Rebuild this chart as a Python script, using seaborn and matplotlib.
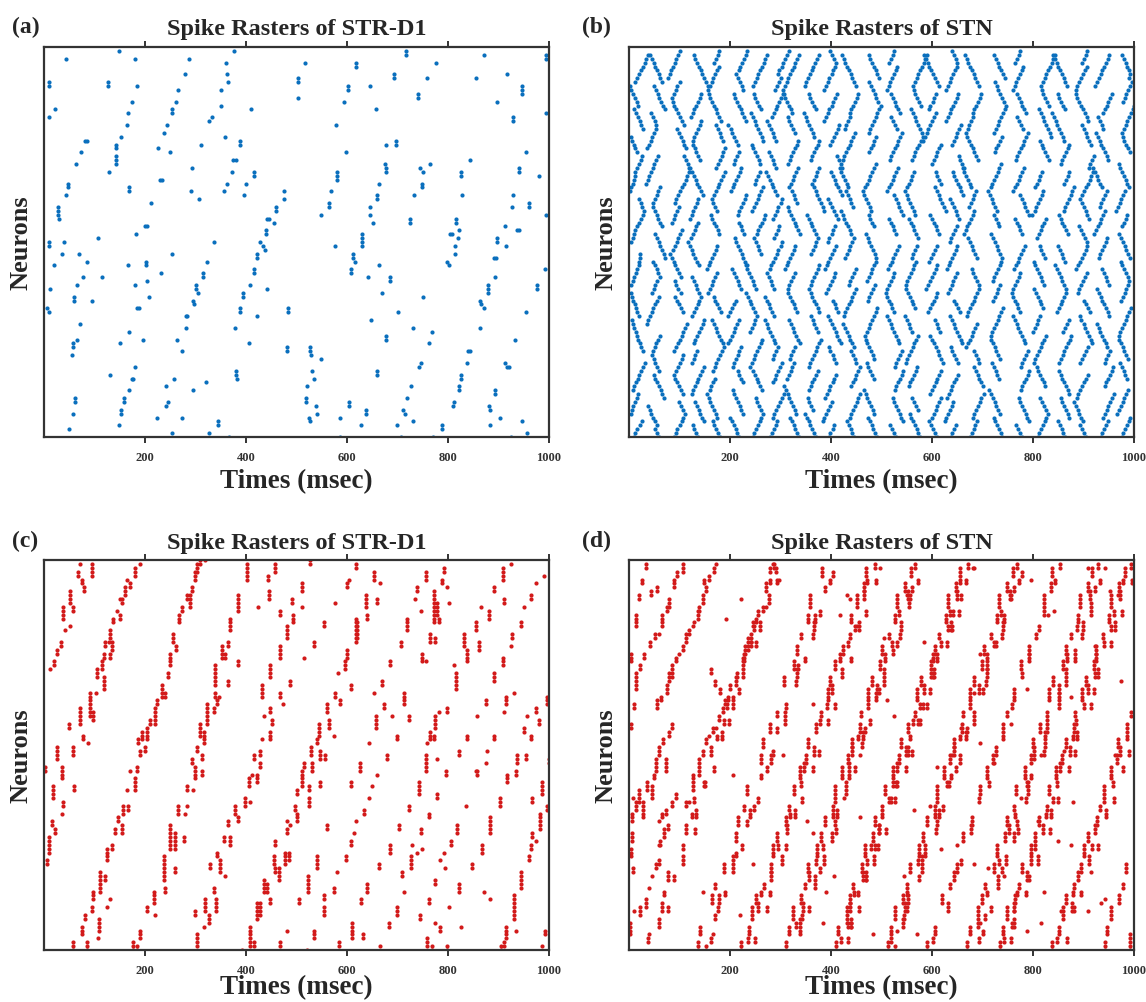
import matplotlib
matplotlib.use("Agg")
import matplotlib.pyplot as plt
import seaborn as sns
import pandas as pd

# ---------------- data (time in ms, neuron index 0..100) ----------------
# panel (a): STR-D1 spikes, (time, neuron)
spikes_a = [
(148,99),(44,97),(181,97),(287,97),(376,99),(360,96),
(9,91),(9,90),(126,91),(126,90),(185,90),(279,93),(362,93),(365,91),(266,89),(351,89),
(503,92),(503,91),(503,87),(174,86),(261,86),(21,84),(9,82),(166,83),(254,84),(254,83),(350,85),(409,84),
(333,82),(326,81),(164,80),(244,80),(238,78),(152,77),(358,77),(82,76),(86,76),
(143,75),(143,74),(143,72),(143,71),(143,70),(73,73),(226,74),(249,73),(310,75),(389,76),(389,75),
(64,70),(375,71),(381,71),(128,68),(294,69),(372,68),(416,68),(416,67),
(48,65),(48,64),(169,64),(169,63),(230,66),(234,66),(363,65),(400,65),
(43,62),(291,63),(357,63),(475,63),(397,62),(306,61),(475,61),(212,60),
(28,59),(28,58),(28,57),(30,56),(459,59),(459,58),(441,56),(446,56),(455,55),
(200,54),(203,54),(439,53),(439,52),(182,52),(107,51),(9,50),(9,49),(40,50),(336,50),(427,50),(434,49),
(516,96),(617,96),(617,95),(601,90),(601,89),(594,86),(646,90),(657,84),(716,99),(716,98),(694,93),(694,92),
(741,88),(741,87),(758,92),(776,96),(872,98),(855,92),(917,93),(946,90),(946,89),(947,88),(898,86),(994,98),
(994,97),(995,83),(928,82),(928,81),(578,80),(677,75),(697,76),(697,75),(599,73),(676,70),(677,69),(678,68),
(581,68),(581,67),(581,66),(664,65),(660,62),(660,61),(569,63),(565,60),(565,59),(549,57),(645,59),(646,57),
(651,55),(725,56),(725,55),(744,69),(751,68),(765,70),(748,65),(748,64),(732,62),(826,68),(826,67),(843,71),
(827,62),(816,56),(816,55),(821,53),(803,52),(807,52),(820,51),(814,49),(954,73),(941,69),(941,68),(981,67),
(929,62),(927,59),(960,60),(960,59),(912,54),(937,53),(941,53),(898,51),(898,50),(915,49),(630,52),(630,51),
(630,50),(630,49),(576,49),(995,57),
(438,48),(35,47),(69,47),(254,47),(20,44),(85,45),(167,44),(201,45),(201,44),(232,42),(323,45),(315,42),
(315,41),(11,38),(65,39),(78,41),(115,41),(181,39),(203,40),(301,39),(301,38),(304,37),(59,36),(59,35),
(96,35),(208,36),(296,35),(297,34),(6,33),(9,32),(185,33),(189,33),(281,31),(283,31),(281,28),(72,29),
(66,25),(57,24),(57,23),(55,21),(169,27),(197,25),(150,24),(263,25),(273,22),(180,18),(130,16),(174,15),
(177,15),(168,12),(158,10),(158,9),(153,7),(153,6),(148,3),(62,10),(62,9),(57,6),(49,2),(242,13),(242,8),
(245,9),(258,15),(224,5),(273,5),(253,1),(320,14),(296,12),(327,1),(344,4),(345,3),(366,0),(388,32),(389,33),
(378,28),(405,24),(421,31),(395,37),(395,36),(408,39),(416,43),(416,42),(422,47),(422,46),(442,38),(381,17),
(381,16),(382,15),(483,33),(483,32),(481,23),(481,22),
(814,47),(612,47),(612,46),(616,45),(608,43),(608,42),(642,41),(664,44),(686,41),(686,40),(669,37),(799,45),
(801,44),(891,46),(895,46),(893,41),(879,39),(879,38),(879,37),(864,35),(865,34),(871,33),(976,39),(977,38),
(993,43),(955,32),(751,36),(700,32),(648,30),(731,28),(769,27),(763,24),(678,26),(678,25),(526,23),(526,22),
(529,21),(549,20),(531,17),(535,15),(521,13),(518,10),(519,9),(539,8),(541,6),(524,5),(527,4),(587,5),
(586,0),(603,9),(603,8),(628,3),(638,7),(638,6),(660,17),(660,16),(699,3),(706,0),(710,7),(714,6),(730,4),
(719,10),(727,13),(742,18),(746,19),(771,0),(789,3),(789,2),(809,8),(812,9),(822,13),(822,12),(826,16),
(826,15),(838,19),(840,22),(844,22),(863,28),(882,8),(884,7),(884,3),(903,5),(894,12),(894,11),(932,25),
(913,19),(917,18),(921,18),(925,0),(947,4),(957,1),
]

# panel (b): STN spike chains, each (first neuron, [times of consecutive neurons])
b_col01 = [(0,[9,12,16,21,25]),(6,[3,6,8,11,15,18]),(12,[8,10,13,17,20,24,27,31]),(22,[28,24,21,18,15]),(27,[14,10,7,5]),(31,[19,16,13,11,8,5,3]),(39,[3,7,10,13,16,20]),(45,[19,22,22]),(50,[4,7,10,12,15,19,23,27,30]),(59,[26,23,20]),(63,[2,4,7,10,12]),(68,[12,15,19,23,26]),(73,[16,12,9,6,3]),(79,[28,24,21,17,14,10]),(85,[18,15,11,8,4,1]),(91,[12,16,19,23,27,31,34,38])]
b_col02 = [(0,[59,55,52]),(3,[55,51,48,44,41,38]),(10,[70,66,63,60,56,52,49]),(17,[60,56,52,49]),(21,[45,48,51,54,58,61]),(29,[35,38,41,45,48,51,55,59]),(37,[46,49,52,56]),(41,[61,58,55,51,48]),(46,[72,69,65,62,59,55,52]),(54,[65,62,58,55,52,48]),(60,[48,51,55,58,61]),(65,[34,37,40,44,47,50,54,57]),(74,[36,39,43,46,50,53]),(80,[54,51,47,44]),(84,[71,67,64,60,57,53,50]),(91,[66,62,59,55,52,49,45,42])]
b_col03 = [(0,[89,93,96,100,104,107,111]),(7,[106,103,99]),(11,[106,102,99,95,92]),(16,[90,93,97,100,104,107]),(22,[90,93,97,100,104,107,111,114]),(32,[106,102,99,95,92]),(37,[102,98,94,91]),(41,[103,99,96,92,89,86,82]),(48,[88,91,95,98,101,105]),(55,[85,89,92,96,99]),(60,[91,94,98,101,105,108,112,115,118]),(69,[119,116,112,109]),(74,[112,109,106,102,99,96]),(80,[108,104,101,97,94,90,87]),(87,[86,89,93,96,100]),(92,[78,81,84,88,91,94,98,101])]
b_col04 = [(0,[136,133,129,126]),(4,[148,145,141,138,134,131]),(11,[124,127,130,134,137,141,144,148]),(19,[124,128,131,135]),(24,[128,131,135,139,142,146,149]),(31,[125,129,132,136,139]),(36,[142,139,135,132,128,125]),(44,[138,134,131,127,124,121,117]),(51,[123,126,130,133,137]),(56,[120,124,127,131,134,137]),(62,[146,142,139,135,132,128,124,121]),(71,[140,137,133,130,126]),(76,[126,129,133,136,140,143]),(82,[122,126,129,133,136,140,143]),(90,[156,152,149,145,142,138,135,131,128])]
b_col05 = [(0,[180,176,173,169,166]),(5,[175,172,168,165,161,158,154]),(12,[160,163,167,170]),(17,[166,170,173,177,180,184]),(23,[189,186,182,179,175,172,168,165]),(32,[182,178,175,171,168]),(37,[157,160,164,167,171,174]),(43,[155,158,161,165,168,172,175]),(52,[179,176,172,169,165,162]),(58,[174,171,167,164]),(62,[169,172,176,179,183,186,190]),(69,[173,177,180,184,187,191]),(76,[187,183,180,176,173]),(81,[182,179,175,172,168,165,161,158]),(89,[157,160,164,167,171,174,178]),(96,[169,172,176,179])]
b_col06 = [(0,[218,214,211,207,204,200]),(6,[226,222,219,215,212,208,205]),(14,[225,222,218,215]),(18,[205,208,211,215,218,222]),(24,[196,200,203,207,210,214,217]),(31,[197,200,204,207,211]),(38,[222,218,215,211,208,204]),(44,[233,230,226,223,219,216,212,209]),(52,[228,224,221,217]),(57,[215,218,222,225,229,232]),(63,[201,205,208,212,215,219,222]),(70,[207,210,214,217]),(75,[215,211,208,204,201,197]),(81,[231,228,224,221,217,214,210,207]),(89,[226,223,219,216,212]),(94,[217,220,224,227,231,234])]
b_col07 = [(0,[245,248,252,255,259,262,266]),(7,[261,258,254,251]),(12,[263,260,256,253,249,246]),(18,[240,243,247,250,254,257,261,264]),(27,[240,243,247,250,254]),(32,[249,246,242,239,235,232]),(38,[252,248,245,241,238,234,231]),(47,[262,258,255,251,248]),(52,[253,256,260,263,267,270]),(58,[244,248,251,255,258,262,265]),(65,[249,252,256,259]),(70,[260,257,253,250,246,243]),(76,[266,263,259,256,252,249,245,242]),(84,[261,257,254,250,247]),(90,[246,249,253,256,260,263,267,270,274])]
b_col08 = [(0,[280,284,287,291,294]),(5,[285,288,292,295,299,302,306]),(14,[285,289,292,296,299,303]),(20,[285,288,292,295]),(24,[290,287,283,280,276,273,269]),(31,[287,284,280,277,273,270]),(38,[288,284,281,277,274]),(43,[279,282,286,289,293,296,300,303]),(51,[288,291,295,298]),(56,[286,289,293,296,300,303]),(62,[293,290,286,283,279,276,272]),(69,[292,288,285,281,278]),(76,[292,288,285,281,278,274]),(82,[284,287,291,294,298,301,305]),(89,[290,293,297,300]),(93,[295,298,302,305,309,312,316])]
b_col09 = [(0,[336,333,329,326,322,319]),(6,[331,328,324,321,317,314,310,307]),(15,[313,316,320,323,327]),(20,[318,321,325,328]),(24,[338,334,331,327,324,320,317]),(32,[333,329,326,322,319,315]),(38,[314,317,321,324,328]),(43,[308,312,315,319,322,326,329]),(52,[338,335,331,328,324,321,317,314]),(60,[333,329,326,322]),(64,[317,320,324,327,331,334]),(70,[314,318,321,325,328,332,335]),(78,[328,324,321,317,314]),(83,[323,320,316,313,309,306]),(89,[305,308,312,315,319,322,326,329,333,336])]
b_col10 = [(0,[370,366,363,359,356,352,349]),(7,[364,361,357,354]),(12,[356,360,363,367,370,374]),(18,[356,359,363,366,370,373,377,380]),(27,[374,371,367,364,360]),(32,[377,374,370,367,363,360]),(38,[356,360,363,367,370,374,377]),(47,[361,364,368,371,375]),(52,[370,367,363,360,356,353]),(58,[387,384,380,377,373,370,366,363]),(66,[366,370,373,377]),(71,[360,363,367,370,374,377]),(77,[367,364,360,357,353,350,346]),(84,[370,366,363,359,356]),(90,[348,351,355,358,362,365,369,372,376])]
b_col11 = [(0,[396,399,403,406]),(4,[384,387,391,394,398,401]),(10,[389,392,396,399,403,406,410]),(19,[410,406,403,399,396]),(24,[419,416,412,409,405,402,398,395]),(32,[414,410,407,403]),(37,[391,394,398,401,405,408]),(43,[388,392,395,399,402,406,409]),(50,[394,397,401,404,408]),(56,[413,409,406,402,399,395]),(62,[421,417,414,410,407,403,400]),(69,[422,419,415,412]),(75,[399,402,406,409,413,416]),(81,[387,390,394,397,401,404,408,411]),(89,[387,390,394,397,401,404,408]),(96,[409,406,402,399])]
b_col12 = [(0,[446,442,439,435,432]),(5,[437,440,444,447,451,454,458]),(13,[440,443,447,450,454,457]),(19,[450,447,443,440]),(23,[445,442,438,435,431,428,424]),(31,[425,428,432,435,439,442,446,449]),(39,[435,438,442,445,449]),(46,[428,431,435,438,442,445]),(52,[440,437,433,430,426,423,419]),(59,[444,440,437,433,430]),(64,[434,431,427,424,420,417]),(71,[423,426,430,433,437,440,444,447]),(79,[427,430,434,437]),(83,[437,440,444,447,451,454]),(90,[449,446,442,439,435,432,428,425,421])]
b_col13 = [(0,[491,488,484,481,477,474]),(6,[486,483,479,476,472,469,465]),(15,[485,481,478,474,471]),(20,[486,483,479,476,472,469]),(26,[468,471,475,478,482,485,489,492]),(35,[473,476,480,483,487]),(40,[472,475,479,482,486,489]),(46,[490,487,483,480,476,473,469]),(54,[485,482,478,475]),(58,[480,477,473,470,466,463]),(64,[468,471,475,478,482,485,489]),(73,[476,479,483,486,490]),(78,[475,478,482,485,489,492,496,499]),(86,[494,490,487,483,480,476]),(92,[496,492,489,485,482,478,475])]
b_col14 = [(0,[528,524,521,517]),(4,[543,539,536,532,529,525,522]),(12,[526,529,533,536,540,543]),(18,[526,529,533,536,540]),(24,[535,532,528,525,521,518,514,511]),(32,[525,521,518,514,511]),(37,[508,511,515,518,522,525]),(43,[513,516,520,523,527,530,534]),(52,[529,525,522,518,515]),(57,[542,539,535,532,528,525]),(63,[511,515,518,522,525,529,532]),(71,[516,519,523,526,530,533,537,540]),(79,[530,526,523,519]),(83,[536,533,529,526,522,519]),(89,[510,514,517,521,524,528,531]),(96,[515,518,522,525])]
b_col15 = [(0,[577,573,570,566,563,559,556]),(7,[572,568,565,561]),(13,[554,557,561,564,568,571]),(19,[548,551,555,558,562,565,569,572]),(27,[561,557,554,550,547]),(33,[567,563,560,556,553,549]),(39,[548,551,555,558,562,565,569]),(46,[560,563,567,570]),(51,[572,569,565,562,558,555]),(57,[567,564,560,557,553,550,546]),(64,[551,554,558,561,565]),(71,[560,564,567,571,574,578]),(77,[583,580,576,573,569,566,562,559]),(85,[578,574,571,567,564]),(90,[563,566,570,573,577,580,584,587,591])]
b_col16 = [(0,[609,605,602,598,595]),(5,[600,603,607,610,614,617]),(11,[596,600,603,607,610,614,617]),(19,[621,618,614,611,607,604,600,597]),(27,[616,612,609,605]),(32,[593,596,600,603,607,610]),(38,[589,593,596,600,603,607,610]),(45,[595,598,602,605,609]),(52,[614,610,607,603,600,596]),(58,[627,623,620,616,613,609,606]),(65,[617,614,610,607]),(70,[600,603,607,610,614,617]),(76,[583,586,590,593,597,600,604,607]),(84,[594,597,601,604,608]),(90,[613,609,606,602,599,595,592,588,585])]
b_col17 = [(0,[637,640,644,647]),(4,[625,628,632,635,639,642]),(10,[630,633,637,640,644,647,651]),(19,[651,647,644,640,637]),(24,[660,657,653,650,646,643,639,636]),(32,[655,651,648,644]),(37,[632,635,639,642,646,649]),(43,[629,633,636,640,643,647,650]),(50,[635,638,642,645,649]),(56,[654,650,647,643,640,636]),(62,[662,658,655,651,648,644,641]),(69,[663,660,656,653]),(75,[640,643,647,650,654,657]),(81,[628,631,635,638,642,645,649,652]),(89,[628,631,635,638,642,645,649]),(96,[650,647,643,640])]
b_col18 = [(0,[676,679,683,686,690]),(5,[681,684,688,691,695,698,702]),(13,[701,698,694,691,687,684]),(19,[694,691,687,684]),(23,[668,672,675,679,682,686,689]),(31,[669,672,676,679,683,686,690,693]),(39,[693,689,686,682,679]),(46,[689,686,682,679,675,672]),(52,[663,667,670,674,677,681,684]),(59,[674,677,681,684,688]),(64,[678,675,671,668,664,661]),(71,[691,688,684,681,677,674,670,667]),(79,[671,674,678,681]),(83,[681,684,688,691,695,698]),(90,[693,690,686,683,679,676,672,669,665])]
b_col19 = [(0,[739,736,732,729,725,722]),(6,[734,731,727,724,720,717,713]),(15,[733,729,726,722,719]),(20,[734,731,727,724,720,717]),(26,[716,719,723,726,730,733,737,740]),(35,[721,724,728,731,735]),(40,[720,723,727,730,734,737]),(46,[738,735,731,728,724,721,717]),(54,[733,730,726,723]),(58,[728,725,721,718,714,711]),(64,[716,719,723,726,730,733,737]),(73,[724,727,731,734,738]),(78,[723,726,730,733,737,740,744,747]),(86,[742,738,735,731,728,724]),(92,[744,740,737,733,730,726,723])]
b_col20 = [(0,[778,774,771,767]),(4,[793,789,786,782,779,775,772]),(12,[776,779,783,786,790,793]),(18,[776,779,783,786,790]),(24,[785,782,778,775,771,768,764,761]),(32,[775,771,768,764,761]),(37,[758,761,765,768,772,775]),(43,[763,766,770,773,777,780,784]),(52,[779,775,772,768,765]),(57,[792,789,785,782,778,775]),(63,[761,765,768,772,775,779,782]),(71,[766,769,773,776,780,783,787,790]),(79,[780,776,773,769]),(83,[786,783,779,776,772,769]),(89,[760,764,767,771,774,778,781]),(96,[765,768,772,775])]
b_col21 = [(0,[809,812,816,819,823,826,830]),(7,[825,821,818,814]),(13,[824,821,817,814,810,807]),(19,[801,804,808,811,815,818,822,825]),(27,[800,803,807,810,814]),(33,[820,816,813,809,806,802]),(39,[822,818,815,811,808,804,801]),(46,[823,820,816,813]),(51,[808,811,815,818,822,825]),(57,[799,803,806,810,813,817,820]),(64,[804,807,811,814,818]),(71,[831,827,824,820,817,813]),(77,[836,833,829,826,822,819,815,812]),(85,[831,827,824,820,817]),(90,[816,819,823,826,830,833,837,840,844])]
b_col22 = [(0,[864,860,857,853,850]),(5,[872,869,865,862,858,855]),(11,[872,869,865,862,858,855,851]),(19,[852,855,859,862,866,869,873,876]),(27,[860,864,867,871]),(32,[848,851,855,858,862,865]),(38,[865,862,858,855,851,848,844]),(45,[864,860,857,853,850]),(52,[869,865,862,858,855,851]),(58,[861,864,868,871,875,878,882]),(65,[862,865,869,872]),(70,[855,858,862,865,869,872]),(76,[862,859,855,852,848,845,841,838]),(84,[863,859,856,852,849]),(90,[868,864,861,857,854,850,847,843,840])]
b_col23 = [(0,[904,901,897,894]),(4,[899,896,892,889,885,882]),(10,[887,890,894,897,901,904,908]),(19,[894,897,901,904,908]),(24,[917,914,910,907,903,900,896,893]),(32,[912,908,905,901]),(37,[889,892,896,899,903,906]),(43,[886,890,893,897,900,904,907]),(50,[906,902,899,895,892]),(56,[911,907,904,900,897,893]),(62,[898,901,905,908,912,915,919]),(69,[910,913,917,920]),(75,[914,911,907,904,900,897]),(81,[909,906,902,899,895,892,888,885]),(89,[885,888,892,895,899,902,906]),(96,[897,900,904,907])]
b_col24 = [(0,[934,937,941,944,948]),(5,[939,942,946,949,953,956,960]),(13,[942,945,949,952,956,959]),(19,[942,945,949,952]),(23,[947,944,940,937,933,930,926]),(31,[951,948,944,941,937,934,930,927]),(39,[951,947,944,940,937]),(46,[930,933,937,940,944,947]),(52,[921,925,928,932,935,939,942]),(59,[932,935,939,942,946]),(64,[936,933,929,926,922,919]),(71,[949,946,942,939,935,932,928,925]),(79,[939,936,932,929]),(83,[939,942,946,949,953,956]),(90,[923,927,930,934,937,941,944,948,951])]
b_col25 = [(0,[976,979,983,986,990,993]),(6,[967,971,974,978,981,985,988]),(15,[987,983,980,976,973]),(20,[988,985,981,978,974,971]),(26,[970,973,977,980,984,987,991,994]),(35,[975,978,982,985,989]),(40,[991,988,984,981,977,974]),(46,[992,989,985,982,978,975,971]),(54,[977,980,984,987]),(58,[965,968,972,975,979,982]),(64,[991,987,984,980,977,973,970]),(73,[992,988,985,981,978]),(78,[977,980,984,987,991,994,998,1000]),(86,[978,982,985,989,992,996]),(92,[990,993,991,987,984,980,977])]
b_columns = [b_col01, b_col02, b_col03, b_col04, b_col05, b_col06, b_col07, b_col08, b_col09,
             b_col10, b_col11, b_col12, b_col13, b_col14, b_col15, b_col16, b_col17, b_col18,
             b_col19, b_col20, b_col21, b_col22, b_col23, b_col24, b_col25]

# panel (c): STR-D1 spikes as vertical runs (time, lowest neuron, number of neurons)
stacks_c = [
(71,99,1),(95,96,4),(68,96,2),(75,94,2),(79,92,2),(52,89,4),(57,87,2),(37,85,4),(52,83,1),(42,82,1),
(33,78,2),(26,76,2),(19,73,2),(12,72,1),(180,96,3),(190,99,1),(165,95,1),(170,93,2),(160,91,3),(150,90,1),
(155,89,2),(145,87,1),(150,85,2),(137,84,2),(131,80,3),(128,79,1),(121,78,2),(134,77,3),(118,75,2),(131,75,2),
(114,72,3),(104,70,3),(118,67,4),(91,65,2),(103,66,1),(91,60,5),(98,59,3),(71,58,5),(50,57,2),(77,54,2),
(88,53,1),(26,49,4),(57,50,3),(2,46,2),(35,44,4),(17,39,4),(60,41,2),(38,37,2),(35,35,1),(15,32,2),
(22,30,2),(9,25,5),(5,22,2),(58,0,3),(85,0,3),(75,4,3),(81,8,2),(106,3,1),(95,10,2),(98,13,3),
(108,5,4),(124,11,1),(110,15,6),(121,18,2),(131,13,1),(124,23,4),(134,26,2),(141,30,2),(147,33,2),(154,30,3),
(157,35,3),(167,36,2),(164,41,1),(180,41,4),(171,46,1),(184,46,2),(190,50,2),(187,53,2),(200,51,2),(194,54,3),
(204,54,4),(210,58,2),(220,58,5),(223,63,2),(233,65,4),(240,65,2),(245,70,2),(249,73,4),(262,77,2),(255,79,3),
(268,84,3),(273,87,2),(283,90,2),(290,88,4),(294,92,2),(299,95,3),(303,97,3),(308,99,2),(319,100,1),(177,0,3),
(184,0,2),(190,3,3),(204,10,2),(220,9,1),(217,12,4),(240,15,2),(237,18,7),(250,26,7),(260,26,5),(260,20,2),
(278,28,2),(266,35,3),(283,37,1),(280,35,1),(283,41,2),(296,41,1),(299,44,2),(293,48,2),(303,51,2),(299,46,2),
(313,49,2),(313,45,2),(309,55,4),(316,53,4),(323,58,6),(336,61,2),(339,65,2),(342,63,2),(352,75,4),(359,75,2),
(339,68,6),(346,65,1),(365,78,2),(369,82,4),(365,68,2),(385,73,2),(385,87,5),(402,95,4),(402,99,1),(423,88,1),
(299,9,2),(303,1,4),(316,6,1),(319,10,4),(326,7,3),(336,15,2),(341,10,4),(329,21,2),(342,24,2),(349,20,4),
(359,19,1),(356,28,2),(369,27,3),(365,32,2),(379,35,3),(385,33,2),(399,37,3),(407,38,1),(405,42,3),(412,45,1),
(415,49,2),(422,43,3),(428,50,2),(432,54,1),(428,47,2),(448,54,3),(452,58,2),(448,61,2),(435,60,1),(432,65,4),
(448,70,4),(468,65,2),(473,63,1),(468,75,4),(468,86,2),(481,80,4),(491,89,2),(494,84,3),(511,92,3),(511,88,1),
(514,75,1),(534,78,2),(527,99,2),(458,97,3),(443,95,2),(445,90,3),(488,68,2),(554,83,2),(577,89,1),(600,93,2),
(603,95,1),(392,0,1),(408,1,6),(415,1,2),(422,8,5),(428,9,4),(435,15,4),(442,15,3),(448,12,2),(455,22,3),
(458,20,2),(465,18,4),(478,22,4),(485,23,3),(458,27,2),(481,30,2),(488,32,1),(481,33,1),(498,36,2),(501,33,3),
(501,40,2),(511,42,5),(514,47,2),(524,41,2),(524,37,3),(529,50,3),(531,46,3),(541,53,2),(547,49,3),(557,49,2),
(546,42,2),(544,55,4),(561,61,3),(564,57,3),(574,55,1),(577,65,2),(587,63,2),(582,71,1),(597,72,3),(600,75,3),
(607,67,2),(617,79,7),(620,80,5),(637,88,4),(640,85,2),(660,89,2),(653,95,3),(665,94,1),(617,98,2),(467,1,2),
(481,5,1),(504,12,2),(521,0,1),(534,3,3),(523,15,5),(541,21,4),(554,13,2),(554,9,3),(561,31,2),(574,15,2),
(580,20,1),(584,1,2),(599,23,2),(607,27,2),(613,30,1),(617,33,1),(610,3,5),(627,12,2),(632,3,2),(639,15,3),
(633,35,2),(643,39,1),(650,42,1),(663,21,2),(665,1,1),(683,6,2),(686,25,3),(699,9,3),(703,31,2),(709,19,2),
(713,15,1),(726,21,4),(729,27,1),(739,25,1),(744,8,2),(749,26,1),(746,30,2),(759,1,3),(769,0,2),(775,7,1),
(785,5,2),(762,12,2),(775,17,2),(785,23,1),(792,25,1),(795,21,1),(802,11,1),(798,0,2),(805,27,2),(818,30,3),
(822,15,3),(825,6,1),(835,37,1),(848,21,2),(855,46,1),(868,25,3),(884,30,5),(884,13,1),(871,15,1),(904,0,2),
(911,1,2),(914,3,4),(931,8,7),(944,16,5),(960,23,2),(964,26,2),(967,29,2),(983,31,5),(997,36,2),(987,40,4),
(967,38,2),(974,28,1),(934,5,1),(993,4,2),(987,1,1),(685,73,2),(679,49,2),(669,68,2),(653,66,1),(673,62,2),
(689,60,1),(713,63,4),(723,59,2),(699,54,2),(658,57,4),(643,53,1),(625,46,3),(607,42,2),(660,45,1),(723,36,2),
(742,40,4),(756,46,5),(765,54,3),(759,53,1),(779,49,1),(772,54,2),(775,57,4),(782,61,1),(779,39,2),(762,34,2),
(797,45,2),(798,61,2),(822,50,2),(838,54,2),(815,67,5),(812,73,1),(838,74,4),(832,78,4),(855,82,3),(861,77,3),
(865,88,1),(881,85,3),(875,63,2),(858,60,1),(891,69,3),(908,73,3),(891,54,2),(878,51,1),(875,48,1),(858,45,2),
(891,92,2),(908,95,4),(924,99,1),(911,89,2),(914,63,3),(911,61,1),(924,78,1),(927,80,2),(944,83,2),(950,88,1),
(964,90,2),(974,94,1),(990,96,1),(931,66,1),(974,61,2),(980,58,2),(957,60,1),(950,56,2),(964,54,2),(937,48,3),
(954,49,2),(934,45,2),(917,43,3),(903,37,3),(997,63,3),(1000,48,2),(739,92,2),(756,95,3),(746,87,1),(772,84,9),
(779,86,4),(782,84,2),(792,97,2),(802,89,1),(798,93,1),(789,94,2),(765,79,3),(775,79,2),(749,74,3),(719,82,4),
(706,78,2),(756,74,1),(734,90,1),
]

# panel (d): STN travelling bands. Runs of neurons: lowest neuron + run length,
# one time per run for each band lane (None = no spikes there)
d_starts_1 = [0,4,8,12,16,20,24,28,32,36,40,44,48,52,56,60,64,68,72,76,80,84,88,92,96]
d_counts_1 = [3,3,4,3,2,3,4,3,3,2,3,4,3,3,3,2,4,3,3,3,2,3,4,3,3]
d_counts_3 = [2,2,2,3,2,2,2,3,2,2,2,2,3,2,2,2,3,2,2,2,2,3,2,2,2]
d_starts_2 = [2,6,10,14,18,22,26,30,34,38,42,46,50,54,58,62,66,70,74,78,82,86,90,94,98]
d_counts_2 = [2,2,3,2,3,2,2,3,2,2,2,3,3,2,2,2,3,2,3,2,2,2,3,2,2]
d_counts_4 = [2,3,2,2,2,3,2,2,3,2,2,2,2,3,2,2,2,3,2,2,3,2,2,2,1]
d_lanes_1 = [
[136,141,None,165,171,189,None,211,215,228,233,None,262,266,279,293,None,306,326,332,341,355,359,None,383],
[222,237,244,251,267,281,285,293,311,317,326,339,351,354,371,380,394,399,408,423,437,440,452,466,469],
[311,316,324,340,348,354,372,380,388,404,407,421,433,441,457,460,474,481,497,500,515,527,530,547,559],
[409,414,431,438,444,462,468,484,488,501,506,523,535,539,552,566,571,579,599,605,614,628,632,648,656],
[513,518,526,542,550,556,574,582,590,606,609,623,635,643,659,662,676,683,699,702,717,729,732,749,761],
[591,606,None,620,636,650,None,662,680,None,695,708,720,None,740,749,763,None,777,792,806,None,821,835,838],
[670,675,692,699,705,723,729,745,749,762,767,784,796,800,813,827,832,840,860,866,875,889,893,909,917],
[735,740,748,764,772,778,796,804,812,828,831,845,857,865,881,884,898,905,921,924,939,951,954,971,983],
[837,852,859,866,882,896,900,908,926,932,941,954,966,969,986,995],
[942,947,955,971,979,985],
]
d_lanes_3 = [
[152,None,170,178,None,205,211,None,234,247,None,262,281,None,294,309,None,331,334,None,364,368,None,388,403],
[None,339,343,None,369,378,None,401,407,None,429,435,None,462,467,None,490,504,None,522,537,None,554,561,None],
[527,None,545,553,None,580,586,None,609,622,None,637,656,None,669,684,None,706,709,None,739,743,None,763,778],
[None,700,704,None,730,739,None,762,768,None,790,796,None,823,828,None,851,865,None,883,898,None,915,922,None],
]
d_lanes_2 = [
[37,None,66,69,78,None,106,112,125,129,148,None,162,175,188,194,None,213,228,241,247,256,None,279,288],
[236,None,255,262,281,None,296,313,318,None,340,347,366,None,379,393,402,None,418,434,448,None,466,472,488],
[None,331,345,None,357,371,385,None,404,408,None,435,441,454,None,473,491,None,507,520,None,535,552,None,567],
[419,434,438,445,464,472,479,496,501,515,523,530,549,556,562,576,585,599,601,617,631,636,649,655,671],
[None,439,None,453,469,None,487,495,None,519,528,None,553,None,573,582,None,601,610,None,639,642,None,668,None],
[518,None,547,550,None,573,587,None,606,610,629,None,643,656,None,675,693,None,709,722,None,737,754,None,769],
[602,None,631,None,643,657,None,677,None,694,713,None,727,740,None,759,None,778,793,None,812,821,None,844,853],
[None,692,None,709,None,732,None,752,765,None,788,None,802,None,828,None,852,None,868,None,887,None,913,None,928],
[743,758,762,769,788,796,803,820,825,839,847,854,873,880,886,900,909,923,925,941,955,960,973,979,995],
[848,None,877,880,889,None,917,923,None,940,959,None,973,986],
]
d_lanes_4 = [
[None,60,77,None,90,107,None,130,133,None,151,169,None,184,198,None,217,225,None,251,259,None,278,293,None],
[162,None,176,191,None,205,224,None,239,256,None,273,285,None,309,311,None,333,348,None,366,379,None,398,None],
[250,None,273,279,None,303,310,None,329,343,None,365,377,None,394,407,None,421,440,None,455,470,None,489,498],
[None,339,356,None,369,386,None,409,412,None,430,448,None,463,477,None,496,504,None,530,538,None,557,572,None],
[433,439,456,None,469,486,493,509,None,526,530,548,560,None,577,590,596,604,None,630,638,653,657,None,681],
[None,543,551,None,575,580,None,607,614,None,633,648,None,667,684,None,701,708,None,727,741,None,757,773,None],
[694,None,717,None,730,747,None,770,None,787,791,None,821,824,None,851,None,865,884,None,899,914,None,933,942],
[757,763,None,786,793,810,None,833,836,850,None,872,884,887,None,914,920,928,None,954,962,977,None,996],
[867,None,881,896,None,910,929,None,944,961,None,978,990],
]
# further runs (time, lowest neuron, number of neurons)
d_runs = [
(13,83,4),(33,98,2),(20,90,2),(26,94,2),
(3,57,2),(10,62,2),(14,67,2),(13,69,3),(22,72,2),(30,75,2),(42,78,2),(52,80,2),(60,81,1),(66,83,4),(75,87,2),
(80,88,3),(90,93,3),(96,96,2),(106,97,3),(56,92,2),(43,91,2),(3,74,3),
(5,33,3),(13,36,3),(20,38,4),(28,34,5),(36,41,3),(45,39,4),(50,44,2),(53,46,4),(60,50,3),(73,46,4),(68,53,2),
(80,55,2),(86,57,2),(56,62,3),(63,64,2),(76,66,3),(80,69,3),(86,70,4),(93,74,2),(99,76,1),(106,77,2),(113,79,3),
(119,81,2),(126,83,1),(129,84,1),(136,85,3),(139,87,2),(146,89,3),(153,92,2),(149,94,2),(159,95,2),(169,97,2),
(172,99,1),(3,24,3),(5,28,3),(8,20,2),
(2,4,4),(10,10,1),(22,9,3),(33,11,3),(40,16,1),(46,19,1),(53,21,2),(60,22,2),(62,27,2),(70,29,3),(78,31,2),
(60,33,1),(66,34,2),(73,35,2),(86,37,2),(93,39,2),(113,37,2),(119,38,1),(126,41,5),(139,45,5),(146,50,2),
(153,53,2),(159,55,1),(166,56,2),(172,57,1),(179,59,2),(186,61,2),(163,71,2),(170,68,2),(180,66,2),(190,63,2),
(196,64,2),(200,67,2),(205,62,4),(212,68,3),(225,73,3),(229,76,3),(236,77,4),(242,79,3),(245,83,2),(252,84,2),
(265,87,2),(271,88,1),(278,89,1),(272,92,3),(279,97,2),(285,99,1),(292,97,2),(298,95,1),
(993,0,5),(7,39,1),(683,98,1),(952,92,1),(968,91,1),(550,91,1),(431,91,1),(438,90,1),(696,76,1),(796,95,1),
(909,98,1),(524,60,1),(657,57,1),(962,50,1),(802,49,1),(816,50,1),(640,50,1),(458,50,1),(206,45,1),(723,48,1),
(352,33,1),(365,30,1),(597,37,1),(809,33,1),(710,21,1),(822,15,1),(915,20,1),(544,19,1),(405,19,1),(245,22,1),
(40,4,1),(816,7,1),(855,10,1),(935,12,1),(484,4,1),(696,7,1),(166,4,1),(385,7,1),(570,4,1),
(146,15,1),(192,85,1),(222,90,1),(418,86,1),(451,83,1),(504,80,1),(584,79,1),(829,86,1),(842,87,1),(922,78,1),
(975,69,1),(789,67,1),(875,65,1),(365,63,1),(511,64,1),(683,66,1),(610,47,1),(862,51,1),(756,58,1),(696,53,1),
(305,50,1),(458,34,1),(879,38,1),(564,36,1),(425,39,1),(776,39,1),(650,27,1),(849,28,1),(60,27,1),(743,19,1),
(391,15,1),(683,22,1),(617,26,1),(875,27,1),(789,5,1),(219,9,1),(530,5,1),(763,10,1),(909,10,1),(942,13,1),
(431,7,1),
]

titles = ["Spike Rasters of STR-D1", "Spike Rasters of STN",
          "Spike Rasters of STR-D1", "Spike Rasters of STN"]
panel_labels = ["(a)", "(b)", "(c)", "(d)"]
xtick_vals = [200, 400, 600, 800, 1000]
blue = "#0a6fbd"
red = "#d21a1a"


def runs_frame(runs):
    t, n = [], []
    for tt, nb, c in runs:
        for k in range(c):
            t.append(tt)
            n.append(nb + k)
    return pd.DataFrame({"t": t, "n": n})


def pairs_frame(pts):
    return pd.DataFrame({"t": [p[0] for p in pts], "n": [p[1] for p in pts]})


def chains_frame(columns):
    t, n = [], []
    for col in columns:
        for n0, times in col:
            for k, tt in enumerate(times):
                t.append(tt)
                n.append(n0 + k)
    return pd.DataFrame({"t": t, "n": n})


def lanes_frame():
    runs = list(d_runs)
    groups = [(d_lanes_1, d_starts_1, d_counts_1), (d_lanes_3, d_starts_1, d_counts_3),
              (d_lanes_2, d_starts_2, d_counts_2), (d_lanes_4, d_starts_2, d_counts_4)]
    for lanes, starts, counts in groups:
        for lane in lanes:
            for tt, nb, c in zip(lane, starts, counts):
                if tt is not None:
                    runs.append((tt, nb, min(c, 100 - nb)))
    return runs_frame(runs)


sns.set_style("white")
plt.rcParams["font.family"] = ["Liberation Serif", "DejaVu Serif"]
plt.rcParams["font.weight"] = "bold"

W, H = 1146, 1003
fig = plt.figure(figsize=(W / 100, H / 100), dpi=100)


def add_ax(x0, y0, x1, y1):
    return fig.add_axes([x0 / W, 1 - y1 / H, (x1 - x0) / W, (y1 - y0) / H])


axes = [add_ax(44, 48, 549, 438), add_ax(629, 48, 1134, 438),
        add_ax(44, 561, 549, 951), add_ax(629, 561, 1134, 951)]

frames = [pairs_frame(spikes_a), chains_frame(b_columns), runs_frame(stacks_c), lanes_frame()]
colors = [blue, blue, red, red]

for i, ax in enumerate(axes):
    df = frames[i]
    sns.scatterplot(data=df, x="t", y="n", ax=ax, color=colors[i], s=9,
                    linewidth=0, legend=False, zorder=2)
    ax.set_xlim(0, 1000)
    ax.set_ylim(0, 100)
    ax.set_xticks(xtick_vals)
    ax.set_xticklabels([str(v) for v in xtick_vals], fontsize=9, fontweight="bold",
                       color="#333333")
    ax.set_yticks([])
    ax.tick_params(axis="x", direction="out", length=4, width=1.4, top=True,
                   bottom=True, labeltop=False, pad=6, color="#333333")
    for s in ax.spines.values():
        s.set_visible(True)
        s.set_linewidth(1.6)
        s.set_color("#333333")
        s.set_zorder(5)
    ax.set_xlabel("Times (msec)", fontsize=19.5, fontweight="bold",
                  labelpad=4 if i < 2 else -1)
    ax.set_ylabel("Neurons", fontsize=19, fontweight="bold", labelpad=8)
    ax.set_title(titles[i], fontsize=17.5, fontweight="bold", pad=9)

for lab, (px, py) in zip(panel_labels, [(12, 27), (582, 27), (12, 541), (582, 541)]):
    fig.text(px / W, 1 - py / H, lab, fontsize=17, fontweight="bold", va="center")

fig.savefig("out.png", dpi=100)
